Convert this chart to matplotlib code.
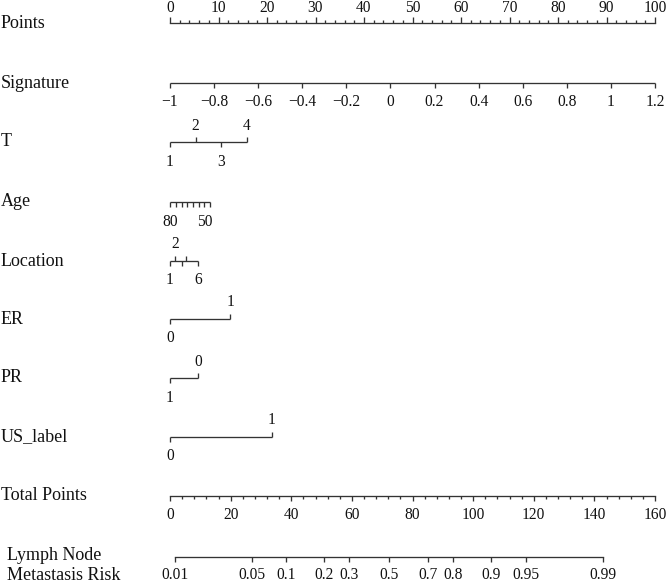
import numpy as np
import matplotlib.pyplot as plt

plt.rcParams['font.family'] = ['Liberation Serif', 'DejaVu Serif']

# ---- nomogram data ----
points_ticks = np.arange(0, 101, 10)

sig_ticks = [-1, -0.8, -0.6, -0.4, -0.2, 0, 0.2, 0.4, 0.6, 0.8, 1, 1.2]
sig_labels = ['\u22121', '\u22120.8', '\u22120.6', '\u22120.4', '\u22120.2', '0',
              '0.2', '0.4', '0.6', '0.8', '1', '1.2']
sig_min, sig_max = -1, 1.2          # maps to 0 .. 100 points

t_labels = ['1', '2', '3', '4']
t_points = [0, 5.3, 10.5, 15.9]

age_labels = ['80', '', '', '', '', '', '50', '']
age_points = [0, 1.2, 2.4, 3.5, 4.7, 5.9, 7.1, 8.3]

loc_labels = ['1', '2', '', '', '6']
loc_points = [0, 1.0, 2.4, 3.4, 5.8]

er_labels = ['0', '1']
er_points = [0, 12.4]

pr_labels = ['1', '0']
pr_points = [0, 5.85]

us_labels = ['0', '1']
us_points = [0, 21.0]

total_ticks = np.arange(0, 161, 20)
total_max = 160

risk_ticks = [0.01, 0.05, 0.1, 0.2, 0.3, 0.5, 0.7, 0.8, 0.9, 0.95, 0.99]
risk_labels = ['0.01', '0.05', '0.1', '0.2', '0.3', '0.5', '0.7', '0.8', '0.9', '0.95', '0.99']
tp_at_half = 72.15     # total points where risk = 0.5
tp_per_logit = 15.37   # total points per unit of linear predictor

# ---- figure ----
fig = plt.figure(figsize=(6.66, 5.83), dpi=100)
ax = fig.add_axes([0, 0, 1, 1])
px_per_pt = 4.85
ax.set_xlim(-170 / px_per_pt, (666 - 170) / px_per_pt)
ax.set_ylim(583, 0)
ax.axis('off')

lc = '#333333'
lw = 0.95
tick_fs = 11.2
row_fs = 13
txt_c = '#111111'
trans_lab = ax.get_yaxis_transform()


def row_label(y, text, x=1):
    ax.text(x / 666, y, text, transform=trans_lab, fontsize=row_fs,
            ha='left', va='center', color=txt_c)


def scale(y, pos, labels, sides, major=5):
    # pos in points units; sides: +1 label below (tick down), -1 label above (tick up)
    ax.plot([min(pos), max(pos)], [y, y], color=lc, lw=lw, solid_capstyle='butt')
    for p, lab, s in zip(pos, labels, sides):
        ax.plot([p, p], [y, y + s * major], color=lc, lw=lw, solid_capstyle='butt')
        if lab:
            ty = y + 19.5 if s > 0 else y - 16.5
            ax.text(p, ty, lab, fontsize=tick_fs, ha='center', va='center', color=txt_c)


# Points
y = 23
row_label(y, 'Points')
ax.plot([0, 100], [y, y], color=lc, lw=lw)
for v in np.arange(0, 101, 2):
    ln = 6 if v % 10 == 0 else 3
    ax.plot([v, v], [y, y - ln], color=lc, lw=lw, solid_capstyle='butt')
for v in points_ticks:
    ax.text(v, 12.5, str(v), fontsize=tick_fs, ha='center', va='baseline', color=txt_c)

# Signature
y = 83
row_label(y, 'Signature')
sig_pos = [(s - sig_min) / (sig_max - sig_min) * 100 for s in sig_ticks]
scale(y, sig_pos, sig_labels, [1] * len(sig_pos))

# T
y = 142
row_label(y, 'T')
scale(y, t_points, t_labels, [1, -1, 1, -1])

# Age
y = 202
row_label(y, 'Age')
scale(y, age_points, age_labels, [1] * len(age_points))

# Location
y = 261
row_label(y, 'Location')
scale(y, loc_points, loc_labels, [1, -1, 1, -1, 1])

# ER
y = 319
row_label(y, 'ER')
scale(y, er_points, er_labels, [1, -1])

# PR
y = 378
row_label(y, 'PR')
scale(y, pr_points, pr_labels, [1, -1])

# US_label
y = 437
row_label(y, 'US_label')
scale(y, us_points, us_labels, [1, -1])

# Total Points
y = 496
row_label(y, 'Total Points')
k = 100 / total_max
ax.plot([0, 100], [y, y], color=lc, lw=lw)
for v in np.arange(0, total_max + 1, 4):
    ln = 5 if v % 20 == 0 else 3
    ax.plot([v * k, v * k], [y, y + ln], color=lc, lw=lw, solid_capstyle='butt')
for v in total_ticks:
    ax.text(v * k, y + 19, str(v), fontsize=tick_fs, ha='center', va='center', color=txt_c)

# Risk
y = 557
row_label(555, 'Lymph Node', x=7)
row_label(575, 'Metastasis Risk', x=7)
risk_p = np.array(risk_ticks)
risk_pos = (tp_at_half + tp_per_logit * np.log(risk_p / (1 - risk_p))) * k
ax.plot([risk_pos[0], risk_pos[-1]], [y, y], color=lc, lw=lw)
for p, lab in zip(risk_pos, risk_labels):
    ax.plot([p, p], [y, y + 5], color=lc, lw=lw, solid_capstyle='butt')
    ax.text(p, y + 18, lab, fontsize=tick_fs, ha='center', va='center', color=txt_c)

fig.savefig('out.png', dpi=100)
